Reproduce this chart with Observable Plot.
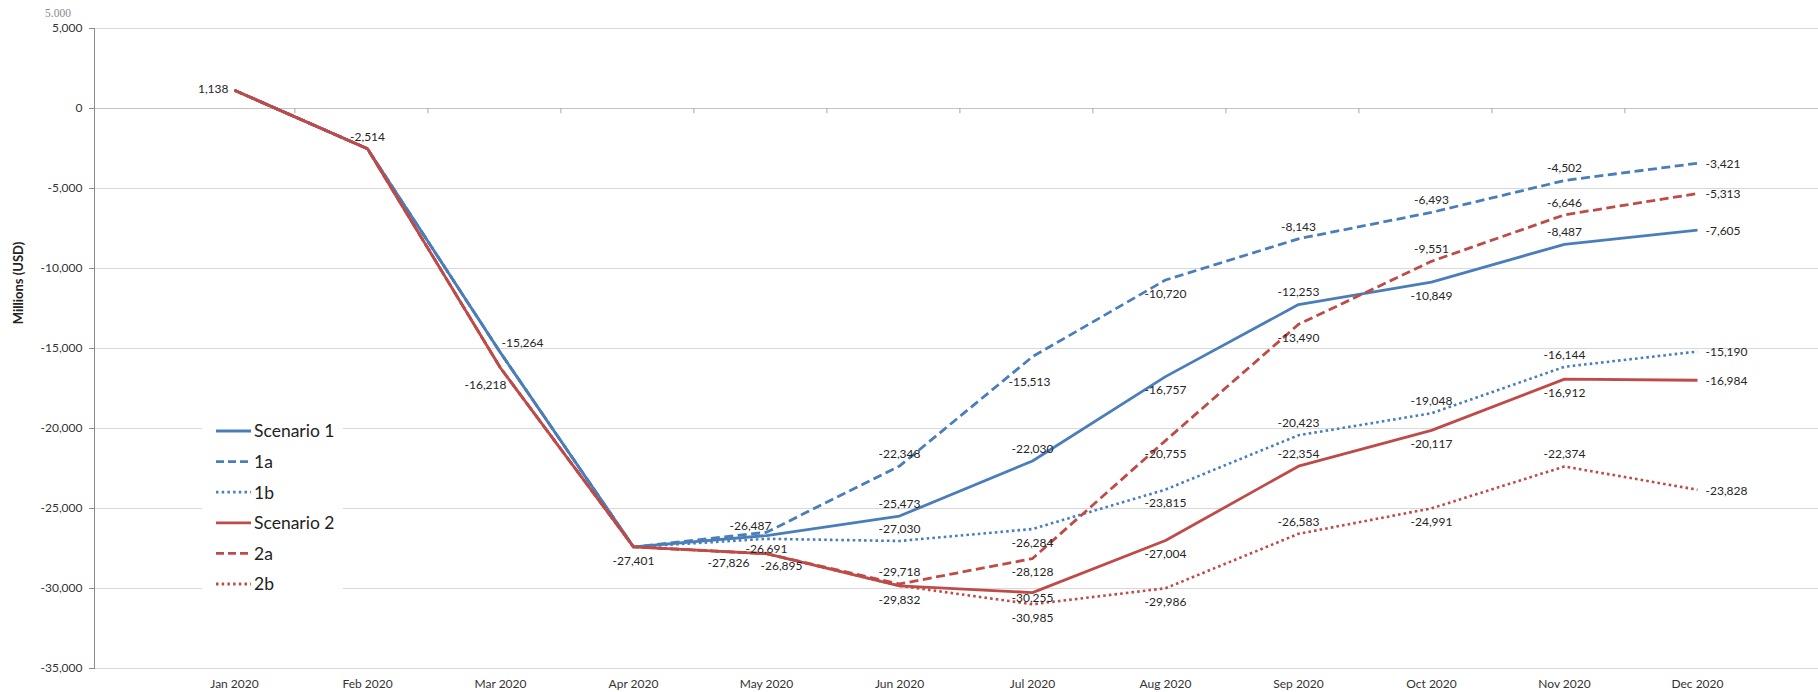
<!DOCTYPE html>
<html>
<head>
<meta charset="utf-8">
<script src="https://cdn.jsdelivr.net/npm/d3@7"></script>
<script src="https://cdn.jsdelivr.net/npm/@observablehq/plot@0.6"></script>
<style>
  html, body { margin: 0; padding: 0; background: #fff; }
  #wrap { position: relative; width: 1818px; height: 692px; overflow: hidden; font-family: Lato, "Open Sans", sans-serif; }
  #ytitle { position: absolute; left: 18px; top: 283px; transform: translate(-50%, -50%) rotate(-90deg); font-weight: bold; font-size: 13px; color: #222; white-space: nowrap; }
  #stray { position: absolute; left: 45px; top: 7px; font-family: "Liberation Serif", "DejaVu Serif", serif; font-size: 11.5px; color: #8a8a8a; }
  #legend { position: absolute; left: 202px; top: 413px; width: 141px; height: 187px; background: #fff; }
</style>
</head>
<body>
<div id="wrap">
  <div id="chart"></div>
  <div id="ytitle">Millions (USD)</div>
  <div id="stray">5.000</div>
  <div id="legend"></div>
</div>
<script>
// ---- data ----
const months = ["Jan 2020","Feb 2020","Mar 2020","Apr 2020","May 2020","Jun 2020","Jul 2020","Aug 2020","Sep 2020","Oct 2020","Nov 2020","Dec 2020"];
const seriesNames = ["Scenario 1","1a","1b","Scenario 2","2a","2b"];
const scenario1 = [1138, -2514, -15264, -27401, -26691, -25473, -22030, -16757, -12253, -10849, -8487, -7605];
const scenario1a = [1138, -2514, -15264, -27401, -26487, -22348, -15513, -10720, -8143, -6493, -4502, -3421];
const scenario1b = [1138, -2514, -15264, -27401, -26895, -27030, -26284, -23815, -20423, -19048, -16144, -15190];
const scenario2 = [1138, -2514, -16218, -27401, -27826, -29832, -30255, -27004, -22354, -20117, -16912, -16984];
const scenario2a = [1138, -2514, -16218, -27401, -27826, -29718, -28128, -20755, -13490, -9551, -6646, -5313];
const scenario2b = [1138, -2514, -16218, -27401, -27826, -29832, -30985, -29986, -26583, -24991, -22374, -23828];
const yTicks = [5000, 0, -5000, -10000, -15000, -20000, -25000, -30000, -35000];

// ---- label placement codes (style, not data) ----
const place1  = ["", "", "NE", "", "S", "N", "N", "S", "N", "S", "N", "E"];
const place1a = ["", "", "", "", "NW", "N", "SS", "S", "N", "N", "N", "E"];
const place1b = ["", "", "", "", "SE", "N", "S", "S", "N", "N", "N", "E"];
const place2  = ["W", "N", "SW", "S", "WSW", "S", "s", "S", "N", "S", "S", "E"];
const place2a = ["", "", "", "", "", "N", "S", "S", "S", "N", "N", "E"];
const place2b = ["", "", "", "", "", "", "S", "S", "N", "S", "N", "E"];

const offsets = {
  N: {dx: 0, dy: -12, textAnchor: "middle"},
  S: {dx: 0, dy: 14, textAnchor: "middle"},
  SS: {dx: -3, dy: 25, textAnchor: "middle"},
  s: {dx: 0, dy: 6, textAnchor: "middle"},
  E: {dx: 8, dy: 1, textAnchor: "start"},
  W: {dx: -6, dy: -1, textAnchor: "end"},
  NE: {dx: 1, dy: -10, textAnchor: "start"},
  SW: {dx: -15, dy: 17, textAnchor: "middle"},
  NW: {dx: -16, dy: -6, textAnchor: "middle"},
  SE: {dx: 15, dy: 27, textAnchor: "middle"},
  WSW: {dx: -38, dy: 9, textAnchor: "middle"}
};

const blue = "#4A7EBB", red = "#BE4B48";
const styles = [
  {name: "1b", values: scenario1b, place: place1b, color: blue, dash: "2.6,3.1", width: 2.6},
  {name: "1a", values: scenario1a, place: place1a, color: blue, dash: "9,4.5", width: 2.8},
  {name: "Scenario 1", values: scenario1, place: place1, color: blue, dash: null, width: 2.8},
  {name: "2b", values: scenario2b, place: place2b, color: red, dash: "2.6,3.1", width: 2.6},
  {name: "2a", values: scenario2a, place: place2a, color: red, dash: "9,4.5", width: 2.8},
  {name: "Scenario 2", values: scenario2, place: place2, color: red, dash: null, width: 2.8}
];

const rows = [];
for (const s of styles) {
  s.values.forEach((v, i) => rows.push({month: months[i], value: v, series: s.name, place: s.place[i]}));
}
const fmt = v => v.toLocaleString("en-US");

const xRange = [167, 1764];
const step = (xRange[1] - xRange[0]) / (months.length - 1);

const marks = [
  Plot.gridY(yTicks, {stroke: "#d9d9d9", strokeOpacity: 1}),
  Plot.ruleY([0], {stroke: "#c4c4c4"}),
  Plot.ruleX(months.slice(1), {x: d => d, y1: 0, y2: -330, dx: -step / 2, stroke: "#a6a6a6"}),
  Plot.frame({anchor: "left", stroke: "#8c8c8c"}),
  Plot.axisY(yTicks, {tickFormat: fmt, tickSize: 5, tickPadding: 7, stroke: "#8c8c8c", fill: "#333", fontSize: 12, label: null}),
  Plot.axisX({tickSize: 0, tickPadding: 11, fill: "#333", fontSize: 12, label: null})
];
for (const s of styles) {
  marks.push(Plot.line(rows.filter(r => r.series === s.name), {
    x: "month", y: "value", stroke: s.color, strokeWidth: s.width,
    strokeDasharray: s.dash || undefined, strokeLinejoin: "round", strokeLinecap: "butt"
  }));
}
for (const [code, o] of Object.entries(offsets)) {
  const sub = rows.filter(r => r.place === code);
  if (!sub.length) continue;
  marks.push(Plot.text(sub, {
    x: "month", y: "value", text: d => fmt(d.value),
    dx: o.dx, dy: o.dy, textAnchor: o.textAnchor, fill: "#262626", fontSize: 12
  }));
}

const chart = Plot.plot({
  width: 1818,
  height: 692,
  marginLeft: 94,
  marginRight: 0,
  marginTop: 28,
  marginBottom: 24,
  style: {fontFamily: "Lato, 'Open Sans', sans-serif", fontSize: "12px", color: "#333", background: "#fff"},
  x: {type: "point", domain: months, range: xRange},
  y: {domain: [-35000, 5000]},
  marks
});
document.getElementById("chart").appendChild(chart);

// ---- legend (inside plot area, white box) ----
const legendOrder = [
  {name: "Scenario 1", color: blue, dash: null},
  {name: "1a", color: blue, dash: "8,4"},
  {name: "1b", color: blue, dash: "2.5,3.2"},
  {name: "Scenario 2", color: red, dash: null},
  {name: "2a", color: red, dash: "8,4"},
  {name: "2b", color: red, dash: "2.5,3.2"}
];
const lg = d3.select("#legend").append("svg").attr("width", 141).attr("height", 187);
legendOrder.forEach((d, i) => {
  const y = 18 + i * 30.6;
  lg.append("line").attr("x1", 14).attr("x2", 49).attr("y1", y).attr("y2", y)
    .attr("stroke", d.color).attr("stroke-width", 2.8).attr("stroke-dasharray", d.dash);
  lg.append("text").attr("x", 52).attr("y", y).attr("dy", "0.36em")
    .attr("font-family", "Lato, 'Open Sans', sans-serif").attr("font-size", 17.5).attr("fill", "#222")
    .text(d.name);
});
</script>
</body>
</html>
